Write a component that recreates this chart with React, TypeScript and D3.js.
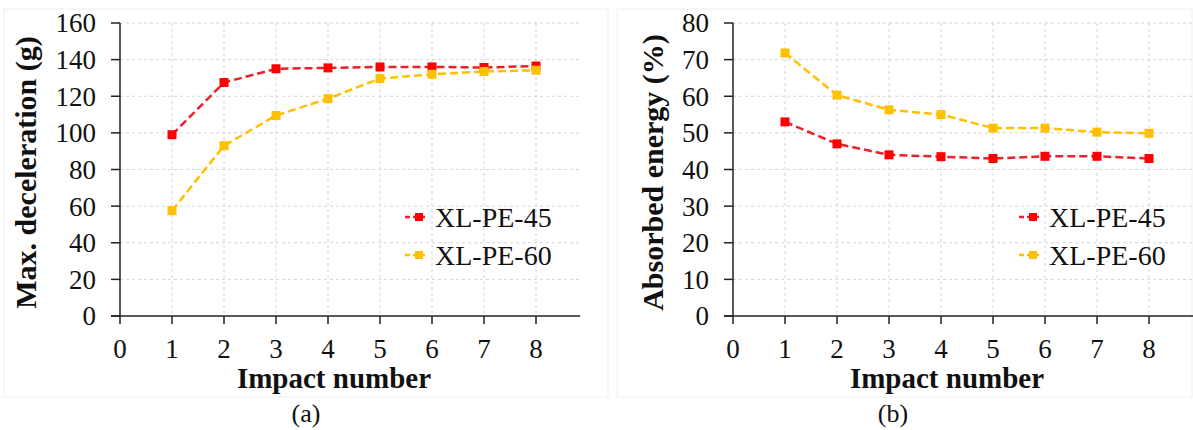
import React from "react";
import * as d3 from "d3";

const impacts = [1, 2, 3, 4, 5, 6, 7, 8];
const xTicks = [0, 1, 2, 3, 4, 5, 6, 7, 8];

const decel45 = [99, 127.5, 135, 135.5, 136, 136, 135.7, 136.5];
const decel60 = [57.5, 93, 109.5, 118.7, 129.7, 132, 133.5, 134.2];
const decelTicks = [0, 20, 40, 60, 80, 100, 120, 140, 160];

const energy45 = [53, 47, 44, 43.5, 43, 43.6, 43.6, 43];
const energy60 = [71.8, 60.3, 56.3, 55, 51.3, 51.3, 50.2, 49.9];
const energyTicks = [0, 10, 20, 30, 40, 50, 60, 70, 80];

const seriesNames = ["XL-PE-45", "XL-PE-60"];
const lineColors = ["#E8222A", "#FFC000"];
const markerColors = ["#FF0000", "#FFC000"];

const FONT = "Liberation Serif, Times New Roman, serif";

type PanelProps = {
  axisX: number;
  yTicks: number[];
  series: number[][];
  yLabel: string;
  yLabelX: number;
  legendX: number;
  caption: string;
  captionX: number;
  titleX: number;
  frameX0: number;
  frameX1: number;
};

function Panel(p: PanelProps) {
  const top = 23;
  const bottom = 316;
  const unit = 52;
  const xMaxVal = 8.85;
  const x = d3.scaleLinear().domain([0, xMaxVal]).range([p.axisX, p.axisX + unit * xMaxVal]);
  const yMax = p.yTicks[p.yTicks.length - 1];
  const y = d3.scaleLinear().domain([0, yMax]).range([bottom, top]);
  const line = d3
    .line<number>()
    .x((_, i) => x(impacts[i]))
    .y((d) => y(d));
  const right = x(xMaxVal);
  const legendRows = [217, 255];
  return (
    <g>
      <rect x={p.frameX0} y={9} width={p.frameX1 - p.frameX0} height={388} fill="none" stroke="#efefef" strokeWidth={1} />
      {p.yTicks.slice(1).map((t) => (
        <line key={"hg" + t} x1={p.axisX} x2={right} y1={y(t)} y2={y(t)} stroke="#d4d4d4" strokeWidth={1} strokeDasharray="3,3" />
      ))}
      {xTicks.slice(1).map((t) => (
        <line key={"vg" + t} x1={x(t)} x2={x(t)} y1={top} y2={bottom} stroke="#d4d4d4" strokeWidth={1} strokeDasharray="3,3" />
      ))}
      <line x1={p.axisX} x2={p.axisX} y1={top} y2={bottom} stroke="#222" strokeWidth={1.5} />
      <line x1={p.axisX - 9} x2={right} y1={bottom} y2={bottom} stroke="#222" strokeWidth={1.5} />
      {p.yTicks.map((t) => (
        <g key={"yt" + t}>
          <line x1={p.axisX - 9} x2={p.axisX} y1={y(t)} y2={y(t)} stroke="#222" strokeWidth={1.5} />
          <text x={p.axisX - 24} y={y(t)} dy="0.35em" textAnchor="end" fontSize={27} fontFamily={FONT} fill="#111">
            {t}
          </text>
        </g>
      ))}
      {xTicks.map((t) => (
        <g key={"xt" + t}>
          <line x1={x(t)} x2={x(t)} y1={bottom} y2={bottom + 8} stroke="#222" strokeWidth={1.5} />
          <text x={x(t)} y={358} textAnchor="middle" fontSize={27} fontFamily={FONT} fill="#111">
            {t}
          </text>
        </g>
      ))}
      {p.series.map((s, si) => (
        <g key={"s" + si}>
          <path d={line(s) || ""} fill="none" stroke={lineColors[si]} strokeWidth={2.5} strokeDasharray="8,4" />
          {s.map((v, i) => (
            <rect key={i} x={x(impacts[i]) - 4.5} y={y(v) - 4.5} width={9} height={9} fill={markerColors[si]} />
          ))}
        </g>
      ))}
      {seriesNames.map((n, i) => (
        <g key={"lg" + i}>
          <line x1={p.legendX - 14} x2={p.legendX + 6} y1={legendRows[i]} y2={legendRows[i]} stroke={lineColors[i]} strokeWidth={2.5} strokeDasharray="5,3" />
          <rect x={p.legendX - 4} y={legendRows[i] - 4} width={8} height={8} fill={markerColors[i]} />
          <text x={p.legendX + 16} y={legendRows[i] + 9.5} fontSize={28} fontFamily={FONT} fill="#111">
            {n}
          </text>
        </g>
      ))}
      <text
        transform={`translate(${p.yLabelX},${(top + bottom) / 2 + 3}) rotate(-90)`}
        textAnchor="middle"
        dy="0.35em"
        fontSize={30}
        fontWeight="bold"
        fontFamily={FONT}
        fill="#111"
      >
        {p.yLabel}
      </text>
      <text x={p.titleX} y={388} textAnchor="middle" fontSize={29} fontWeight="bold" fontFamily={FONT} fill="#111">
        Impact number
      </text>
      <text x={p.captionX} y={422} textAnchor="middle" fontSize={26} fontFamily={FONT} fill="#111">
        {p.caption}
      </text>
    </g>
  );
}

export default function App() {
  return (
    <svg
      width={1193}
      height={430}
      viewBox="0 0 1193 430"
      style={{ position: "absolute", left: 0, top: 0, background: "#fff", fontFamily: FONT }}
    >
      <rect x={0} y={0} width={1193} height={430} fill="#fff" />
      <Panel
        axisX={120}
        yTicks={decelTicks}
        series={[decel45, decel60]}
        yLabel="Max. deceleration (g)"
        yLabelX={25}
        legendX={419}
        caption="(a)"
        captionX={306}
        titleX={334}
        frameX0={4}
        frameX1={608}
      />
      <Panel
        axisX={733}
        yTicks={energyTicks}
        series={[energy45, energy60]}
        yLabel="Absorbed energy (%)"
        yLabelX={652}
        legendX={1033}
        caption="(b)"
        captionX={893}
        titleX={947}
        frameX0={617}
        frameX1={1192}
      />
    </svg>
  );
}
